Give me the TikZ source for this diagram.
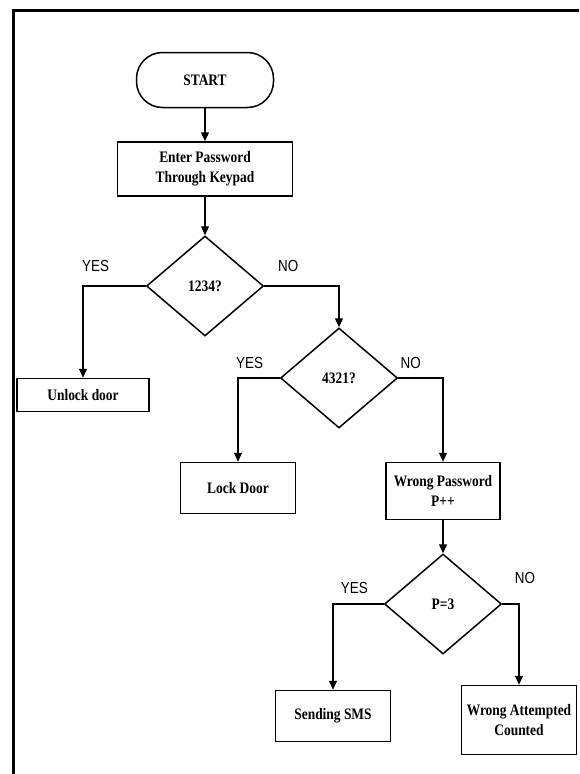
\documentclass[tikz,border=0pt]{standalone}
\usepackage{fontspec}
\setmainfont{Liberation Serif}[FakeStretch=0.84]
\newfontfamily\labelfont{Liberation Sans}[FakeStretch=0.84]
\usetikzlibrary{positioning}
\usetikzlibrary{arrows.meta}
\usetikzlibrary{shapes.geometric}

\begin{document}
\begin{tikzpicture}[x=1pt,y=-1pt,->,>={Triangle[length=9pt,width=8pt]},line width=1.3pt,
	box node/.style={rectangle,draw,line width=1.5pt,inner sep=2pt,align=center,font=\bfseries\fontsize{16}{20}\selectfont},
	start node/.style={box node,rounded corners=26pt},
	test node/.style={diamond,draw,line width=1.5pt,inner sep=0pt,minimum width=117pt,minimum height=100pt,font=\bfseries\fontsize{16}{18}\selectfont},
	answer/.style={font=\labelfont\fontsize{16}{18}\selectfont}]

	\useasboundingbox (0,0) rectangle (579,774);
	\draw[-,line width=3pt] (13,774) -- (13,10) -- (579,10);

	\node[start node,minimum width=137pt,minimum height=55pt] (start) at (205,80) {START};
	\node[box node,minimum width=175pt,minimum height=54pt] (enter) at (205,169) {Enter Password\\Through Keypad};
	\node[test node] (t1) at (205,286) {1234?};
	\node[box node,minimum width=132pt,minimum height=33pt] (unlock) at (83,395) {Unlock door};
	\node[test node] (t2) at (339,378) {4321?};
	\node[box node,minimum width=115pt,minimum height=51pt] (lock) at (238,488) {Lock Door};
	\node[box node,minimum width=114pt,minimum height=57pt] (wrong) at (443,491) {Wrong Password\\P++};
	\node[test node] (t3) at (443,604) {P=3};
	\node[box node,minimum width=115pt,minimum height=51pt] (sms) at (333,716) {Sending SMS};
	\node[box node,minimum width=115pt,minimum height=69pt] (count) at (519,720) {Wrong Attempted\\Counted};

	\draw (start) -- (enter);
	\draw (enter) -- (t1);
	\draw (t1.west) -| node[answer,above=10pt,pos=0.4] {YES} (unlock.north);
	\draw (t1.east) -| node[answer,above=10pt,pos=0.16] {NO} (t2.north);
	\draw (t2.west) -| node[answer,above=5pt,pos=0.36] {YES} (lock.north);
	\draw (t2.east) -| node[answer,above=5pt,pos=0.14] {NO} (wrong.north);
	\draw (wrong) -- (t3);
	\draw (t3.west) -| node[answer,above=6pt,pos=0.29] {YES} (sms.north);
	\draw (t3.east) -| node[answer,above=16pt,xshift=6pt,pos=0.5] {NO} (count.north);
\end{tikzpicture}
\end{document}
